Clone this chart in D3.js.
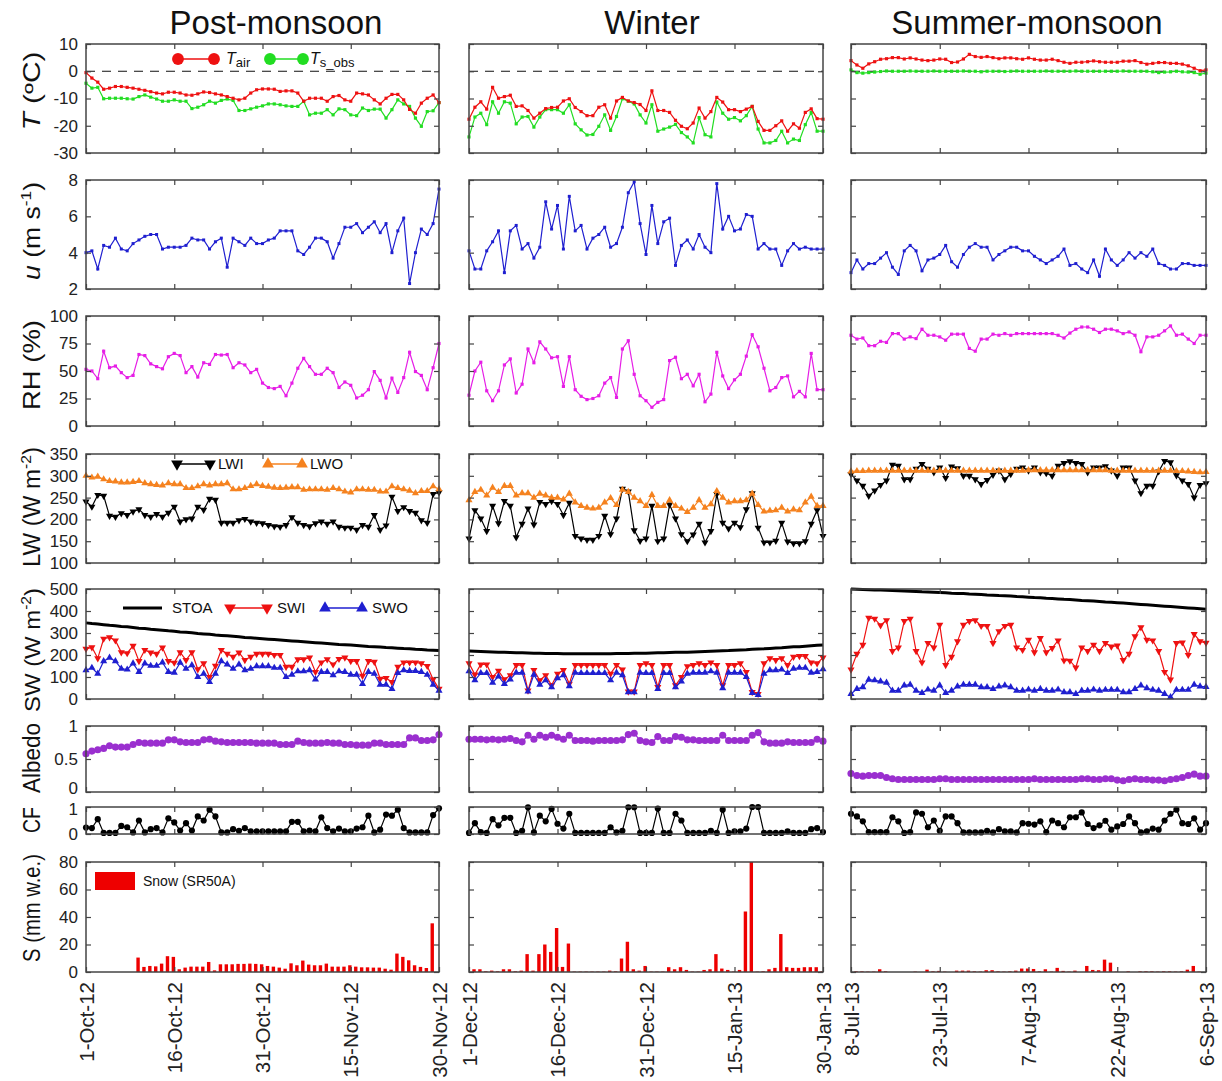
<!DOCTYPE html>
<html>
<head>
<meta charset="utf-8">
<script src="https://cdn.jsdelivr.net/npm/d3@7"></script>
<style>
  body { margin: 0; background: #fff; }
  svg { font-family: "Liberation Sans", Arial, sans-serif; }
</style>
</head>
<body>
<script>

// ---- data (daily values) ----
var seasonNames = ["Post-monsoon", "Winter", "Summer-monsoon"];
var dayTicks = [0, 15, 30, 45, 60];
var dateLabels = [
  ["1-Oct-12", "16-Oct-12", "31-Oct-12", "15-Nov-12", "30-Nov-12"],
  ["1-Dec-12", "16-Dec-12", "31-Dec-12", "15-Jan-13", "30-Jan-13"],
  ["8-Jul-13", "23-Jul-13", "7-Aug-13", "22-Aug-13", "6-Sep-13"]
];

// Post-monsoon
var tairPost = [-0.5,-2.5,-4,-6.6,-6.2,-5.6,-5.6,-5.9,-6.2,-6.6,-7,-7.5,-8,-8.3,-7.7,-7.7,-8,-8.7,-8.8,-8.3,-7.6,-7.8,-8.3,-8.7,-9.3,-9.9,-10.5,-9.9,-8,-6.8,-6.5,-6.5,-6.6,-7.4,-7.2,-7.2,-8,-11,-9.9,-9.9,-9.9,-11,-9.3,-8.9,-10.5,-11,-8,-8.3,-8.7,-10.5,-12,-9.9,-8.5,-8.5,-10.5,-14,-15.4,-11.7,-9.9,-8.7,-11.5];
var tsPost = [-4.4,-6.2,-5.9,-10.1,-9.9,-9.9,-9.9,-10.1,-10.2,-9.3,-8.7,-9.5,-10.2,-11,-11,-10.5,-11,-11,-13.7,-13.2,-12.3,-11,-11.7,-10.7,-10.2,-10.7,-14.4,-14.4,-13.8,-13.2,-12.7,-12,-12,-12.3,-12.7,-12.9,-12.9,-11,-16,-15.4,-15.4,-14.1,-16,-13.8,-14.1,-16,-16.3,-13.5,-14.4,-13.9,-13.9,-17.2,-14.1,-10.5,-12,-12.9,-17.2,-20.2,-14.8,-14.5,-11.5];
var windPost = [4.0,4.1,3.1,4.4,4.3,4.8,4.2,4.1,4.5,4.7,4.9,5.0,5.0,4.2,4.3,4.3,4.3,4.4,4.8,4.7,4.7,4.2,4.6,4.8,3.2,4.8,4.6,4.4,4.8,4.5,4.5,4.7,4.8,5.2,5.2,5.2,4.1,3.9,4.3,4.8,4.8,4.6,3.7,4.5,5.4,5.4,5.6,5.1,5.4,5.7,5.1,5.6,4.0,5.2,5.9,2.3,4.0,5.3,5.0,5.6,7.5];
var rhPost = [51.5,50,43,68,53,54.5,48.5,44,46,65,64,56.5,54,52,63,66,64,48.5,54,44.5,57.5,56,65,64.5,65,53,57.5,55.5,48.5,51.5,39,35,34,36,27.5,39,52.5,61.5,54,47,47,52.5,48.5,35,40,37,25.5,28,33,49.5,41.5,25.5,43.5,30.5,44,67,49.5,46,33,53,75];
var lwiPost = [241,229,256,254,208,206,214,210,218,223,210,206,212,206,215,229,195,200,202,229,222,247,245,192,192,192,198,201,195,192,191,187,184,183,187,205,192,187,184,191,195,190,195,183,181,181,176,187,183,210,176,186,252,219,228,219,215,198,192,258,262];
var lwoPost = [300,296,298,292,288,287,285,285,286,288,283,281,279,278,283,281,281,272,272,276,281,278,281,281,283,269,269,272,277,281,277,275,273,272,273,274,274,268,269,269,269,268,272,269,264,262,269,269,268,268,264,264,276,272,269,266,260,265,265,276,269];
var stoaPost = [346,343,341,338,335,333,330,328,325,322,320,317,315,313,310,308,305,303,301,298,296,294,291,289,287,285,283,280,278,276,274,272,270,268,266,264,262,260,258,256,254,252,250,248,247,245,243,241,239,238,236,234,233,231,229,228,226,225,223,222,220];
var swiPost = [228,235,185,274,280,266,212,208,242,172,223,211,205,234,172,165,212,177,212,135,162,100,151,223,205,192,211,177,192,205,205,205,200,200,146,146,180,180,188,123,166,180,157,182,188,172,172,105,172,169,92,95,77,146,166,166,166,162,150,89,46];
var swoPost = [131,142,115,172,188,172,138,134,162,123,162,151,151,166,123,120,165,138,154,100,115,77,115,172,157,138,157,131,138,149,149,149,142,142,100,111,126,126,131,89,123,123,108,126,123,111,111,69,123,115,65,65,46,118,131,128,128,123,110,65,38];
var albedoPost = [0.58,0.62,0.64,0.66,0.70,0.68,0.68,0.68,0.72,0.75,0.74,0.74,0.74,0.74,0.79,0.79,0.76,0.75,0.75,0.75,0.79,0.80,0.77,0.76,0.75,0.75,0.75,0.75,0.75,0.74,0.74,0.74,0.74,0.72,0.72,0.72,0.77,0.75,0.74,0.74,0.74,0.75,0.74,0.74,0.72,0.72,0.71,0.71,0.71,0.74,0.74,0.72,0.72,0.72,0.72,0.82,0.82,0.78,0.78,0.79,0.87];
var cfPost = [0.24,0.22,0.55,0.04,0.04,0.04,0.3,0.25,0.06,0.5,0.06,0.18,0.22,0.06,0.58,0.43,0.13,0.4,0.13,0.65,0.5,0.9,0.65,0.06,0.06,0.18,0.12,0.22,0.1,0.1,0.1,0.1,0.1,0.1,0.1,0.45,0.45,0.1,0.13,0.1,0.62,0.22,0.1,0.2,0.1,0.1,0.2,0.25,0.68,0.06,0.16,0.72,0.68,0.9,0.22,0.06,0.06,0.06,0.06,0.7,0.95];
var snowPost = [0,0,0,0,0,0,0,0,10.5,3.7,4.4,4.1,6.1,11.5,11,2,3.2,3.9,3.9,3.9,7.3,1.2,5.6,5.6,5.6,5.9,5.9,6.1,5.9,5.6,4.4,3.9,3.2,2.4,6.3,4.9,8.3,5.4,4.9,4.9,6.1,3.9,3.9,3.9,4.9,3.9,3.4,3.4,3.2,3.2,2.4,1.7,13.4,11,8.5,4.9,3.7,2.9,35.4,0];

// Winter
var tairWinter = [-17.6,-13.2,-11.2,-13.9,-5.9,-9.9,-9.3,-8.8,-12.9,-12.7,-14.4,-17.2,-15.4,-13.7,-13.3,-13.2,-10.9,-10.1,-13.3,-14.8,-16.3,-16.3,-13.2,-12.3,-17.2,-10.9,-9.6,-10.9,-11.5,-12.2,-14.4,-7.2,-14.4,-14.4,-15.1,-18.0,-20.2,-21.1,-19.0,-13.5,-17.2,-14.8,-9.6,-11.3,-14.1,-14.1,-14.8,-13.9,-12.9,-18.4,-21.7,-21.7,-20.0,-18.2,-22.0,-19.3,-20.9,-15.1,-13.8,-17.4,-17.6];
var tsWinter = [-24.1,-16.8,-15.4,-19.6,-11.2,-15.4,-11.2,-11.7,-19.3,-16.8,-16.6,-20.5,-16.8,-14.1,-14.1,-14.1,-15.4,-12.3,-19.3,-21.5,-23.4,-23.2,-20.2,-16.0,-21.7,-16.6,-10.1,-11.0,-12.0,-16.0,-19.0,-12.3,-22.0,-21.2,-20.5,-19.5,-22.5,-24.1,-26.3,-17.0,-23.3,-24.1,-11.3,-15.4,-17.6,-17.0,-18.2,-16.3,-12.9,-21.2,-26.3,-26.3,-25.4,-22.0,-26.3,-24.9,-25.4,-19.6,-15.1,-22.0,-22.0];
var windWinter = [4.1,3.1,3.1,4.1,4.6,5.2,2.9,5.2,5.5,4.2,4.5,3.7,4.3,6.8,5.3,6.6,4.2,7.1,5.2,5.5,4.2,4.8,5.0,5.4,4.3,4.5,5.4,7.3,7.9,5.6,3.9,6.6,4.5,5.7,5.9,3.3,4.4,4.7,4.2,5.0,4.3,4.0,7.8,5.3,6.0,5.2,5.3,6.1,6.0,4.2,4.5,4.2,4.2,3.3,4.1,4.5,4.2,4.3,4.2,4.2,4.2];
var rhWinter = [28,50,58,32,23,32,55.5,61,30,38,70,57.5,76.5,70,62,63,36,63,33,27,24,25,27.5,39,44,26,70,77.5,47,27.5,23,17,21.5,24,59.5,62.5,43,47,36.5,47,22,29,67,45.5,34,42,47,63.5,83,72,52.5,32,35,44,45.5,26.5,31.5,26.5,66,33,33];
var lwiWinter = [156,221,202,173,231,191,242,231,159,190,225,188,240,235,242,235,210,238,162,156,153,153,162,208,166,202,270,264,175,151,156,231,150,156,234,202,166,150,165,190,147,173,258,192,179,192,182,223,260,181,147,147,151,192,149,145,145,150,190,221,162];
var lwoWinter = [244,263,268,255,273,263,277,277,255,260,260,250,259,255,250,250,246,259,239,231,227,225,227,239,249,233,268,263,250,242,231,256,231,231,244,231,225,217,227,244,227,235,265,250,239,242,242,244,259,233,218,220,221,227,218,223,221,239,252,231,231];
var stoaWinter = [218,217,216,215,214,213,212,211,210,210,209,208,208,207,207,207,206,206,206,206,206,206,206,206,206,207,207,207,208,208,208,209,210,210,211,212,212,213,214,215,216,217,218,219,220,222,223,224,226,227,228,230,232,233,235,237,238,240,242,244,246];
var swiWinter = [162,111,157,157,100,128,89,108,154,154,38,131,85,108,62,115,131,69,154,154,154,154,154,154,115,154,134,34,34,154,162,154,54,154,154,62,100,149,154,162,154,166,154,62,154,154,162,123,31,23,162,185,177,185,154,192,195,195,166,162,188];
var swoWinter = [126,85,118,118,74,103,69,89,120,120,34,111,65,85,54,95,108,58,120,118,118,118,118,118,85,120,108,31,31,120,118,118,46,118,118,54,80,115,120,120,120,126,120,49,120,120,120,100,28,18,115,131,131,134,118,138,142,142,120,123,135];
var albedoWinter = [0.80,0.80,0.80,0.79,0.80,0.79,0.80,0.81,0.78,0.76,0.86,0.80,0.86,0.83,0.86,0.83,0.80,0.86,0.78,0.78,0.78,0.77,0.78,0.78,0.78,0.78,0.79,0.87,0.89,0.78,0.76,0.75,0.84,0.78,0.78,0.84,0.83,0.79,0.79,0.78,0.78,0.78,0.78,0.86,0.78,0.78,0.78,0.78,0.86,0.90,0.76,0.74,0.74,0.74,0.76,0.75,0.75,0.75,0.75,0.80,0.77];
var cfWinter = [0.04,0.4,0.07,0.04,0.55,0.32,0.6,0.6,0.04,0.12,0.99,0.06,0.68,0.47,0.93,0.38,0.2,0.75,0.04,0.04,0.04,0.04,0.04,0.04,0.25,0.06,0.12,0.99,0.99,0.04,0.04,0.04,0.94,0.04,0.04,0.75,0.5,0.04,0.04,0.04,0.04,0.12,0.04,0.9,0.04,0.1,0.1,0.2,1.0,1.0,0.04,0.04,0.04,0.04,0.1,0.04,0.04,0.04,0.18,0.22,0.07];
var snowWinter = [2,2,0.5,1,0.5,2,2,0.5,1,13,1,13,20,14.6,32,3.7,20.7,0.3,0.3,0.3,0.3,0.3,0.3,1,0.5,9.8,22,2,1,4.4,0.3,0.3,0.3,3.5,2,3.5,1.5,0.3,0.3,1.5,2,13,2.5,1.5,0.3,1.5,44,80,0.3,0.5,2,3,27.6,3.5,3,3,3.5,3.5,3.5,0.5];

// Summer-monsoon
var tairSummer = [3.9,2.3,1.1,2.7,3.5,4.4,4.6,5.0,5.0,4.5,4.9,4.5,4.1,3.9,4.1,4.5,4.4,3.2,3.4,4.5,6.2,5.4,5.1,5.4,5.0,4.6,4.9,4.9,4.6,4.4,4.9,4.4,4.1,4.1,4.4,3.9,3.3,2.9,3.3,3.3,3.5,3.8,3.5,3.3,3.3,3.3,3.7,3.7,3.9,3.2,2.6,2.9,3.2,3.2,2.9,2.9,2.6,2.0,1.1,0.2,0.5];
var tsSummer = [0.5,-0.5,-0.7,-0.5,-0.3,-0.1,0.1,0,0,0,0.1,0,0,0,0.1,0,0,0,0,0.1,0,0,-0.2,0,0,0,-0.1,0,0.1,0,0,0,0,0.1,0,0,0,0,0.1,0,0,0,0,0,0,0,0.1,0,0,0,0,-0.2,-0.5,-0.3,-0.2,0,-0.2,-0.3,-0.5,-1.1,-0.7];
var windSummer = [2.9,3.6,3.1,3.4,3.4,3.7,4.0,3.2,2.8,4.1,4.4,4.1,3.0,3.6,3.7,3.9,4.4,3.5,3.2,3.9,4.3,4.5,4.3,4.3,3.6,3.9,4.1,4.3,4.3,4.1,4.1,3.8,3.6,3.4,3.6,3.8,4.2,3.3,3.4,3.1,2.9,3.6,2.7,4.2,3.6,3.3,3.6,4.0,3.7,4.0,3.8,4.2,3.4,3.3,3.1,3.1,3.4,3.4,3.3,3.3,3.3];
var rhSummer = [82.5,79,80,73,73,77,76,84,84,79,81,79.5,88,82.5,82.5,81,78,83.5,83.5,83.5,70.5,68,79,79,83.5,82.5,84,82.5,84,84,84,84,84,84,84,82.5,80,84.5,88,90,90,88,85,88,88,86.5,84,85.5,82.5,67.5,81,81,82.5,86.5,91,82.5,83.5,79,75,82.5,82.5];
var lwiSummer = [304,289,277,254,266,279,289,325,323,292,292,316,327,316,308,319,295,321,317,300,300,292,281,290,302,312,292,304,316,319,312,319,308,306,300,323,329,333,329,327,308,319,319,322,312,300,319,319,289,260,277,277,310,334,331,301,289,281,250,279,283];
var lwoSummer = [310,311,311,312,312,312,312,312,312,312,312,312,312,312,312,312,312,312,312,312,312,312,312,312,312,312,312,312,312,312,313,313,313,313,313,313,313,313,313,313,313,313,313,313,312,312,312,312,312,312,312,312,312,312,312,311,311,310,309,308,309];
var stoaSummer = [500,499,498,497,496,495,494,493,492,491,490,489,487,486,485,484,483,481,480,479,477,476,475,473,472,470,469,468,466,465,463,461,460,458,457,455,453,452,450,448,447,445,443,441,440,438,436,434,432,430,428,426,424,422,420,418,416,414,412,410,408];
var swiSummer = [134,205,246,369,365,335,358,218,234,354,365,218,166,254,234,337,154,192,262,337,354,358,332,332,254,308,332,337,234,223,269,212,277,212,231,266,175,174,143,234,218,246,218,254,238,243,177,205,285,326,269,266,218,123,88,254,257,200,295,262,255];
var swoSummer = [23,46,54,88,85,80,74,38,38,62,65,38,28,43,38,62,28,38,57,65,65,65,54,54,46,57,62,54,38,38,43,38,46,38,38,43,31,31,23,38,38,43,38,42,42,42,31,31,46,62,49,42,38,23,8,42,42,42,65,57,55];
var albedoSummer = [0.28,0.25,0.24,0.25,0.25,0.25,0.22,0.20,0.19,0.19,0.19,0.19,0.19,0.19,0.19,0.20,0.20,0.19,0.19,0.19,0.19,0.19,0.19,0.19,0.19,0.19,0.19,0.19,0.19,0.19,0.19,0.20,0.19,0.19,0.19,0.19,0.19,0.19,0.19,0.20,0.20,0.19,0.19,0.20,0.20,0.18,0.17,0.19,0.20,0.19,0.19,0.18,0.18,0.17,0.19,0.20,0.22,0.25,0.27,0.24,0.24];
var cfSummer = [0.75,0.65,0.47,0.07,0.07,0.07,0.07,0.62,0.47,0.04,0.07,0.8,0.75,0.25,0.5,0.12,0.65,0.65,0.4,0.06,0.06,0.06,0.06,0.12,0.06,0.18,0.1,0.1,0.06,0.4,0.38,0.35,0.47,0.07,0.5,0.4,0.25,0.62,0.62,0.8,0.37,0.22,0.32,0.49,0.16,0.28,0.37,0.65,0.4,0.06,0.1,0.2,0.16,0.5,0.75,0.9,0.4,0.37,0.58,0.16,0.4];
var snowSummer = [0.5,0.5,0.3,0.3,2,0.5,0,0,0,0,0.3,0,1.7,0.5,0.8,0.3,0,1,1,1,0.5,0.3,1.3,1.3,0.5,0.3,0.5,1,2.5,2.5,2.2,0.5,2,0.3,3,0.8,0.3,1,0,4.4,1.5,1.3,9,6.8,0.3,0,0.5,0,0.5,0.5,0.5,0.3,0.5,0.5,0.3,0.5,1.7,4.4,0.3,0];

var seasons = [
  {tair: tairPost, ts: tsPost, wind: windPost, rh: rhPost, lwi: lwiPost, lwo: lwoPost, stoa: stoaPost, swi: swiPost, swo: swoPost, albedo: albedoPost, cf: cfPost, snow: snowPost},
  {tair: tairWinter, ts: tsWinter, wind: windWinter, rh: rhWinter, lwi: lwiWinter, lwo: lwoWinter, stoa: stoaWinter, swi: swiWinter, swo: swoWinter, albedo: albedoWinter, cf: cfWinter, snow: snowWinter},
  {tair: tairSummer, ts: tsSummer, wind: windSummer, rh: rhSummer, lwi: lwiSummer, lwo: lwoSummer, stoa: stoaSummer, swi: swiSummer, swo: swoSummer, albedo: albedoSummer, cf: cfSummer, snow: snowSummer}
];

// ---- layout ----
var svgWidth = 1222, svgHeight = 1081;
var colRange = [[86, 439], [469, 823], [851, 1206]];
var titleX = [276, 652, 1027];

var panels = [
  {key: "T",      top: 44,  bottom: 153, domain: [-30, 10], ticks: [10, 0, -10, -20, -30]},
  {key: "u",      top: 180, bottom: 289, domain: [2, 8],    ticks: [8, 6, 4, 2]},
  {key: "RH",     top: 316, bottom: 426, domain: [0, 100],  ticks: [100, 75, 50, 25, 0]},
  {key: "LW",     top: 454, bottom: 563, domain: [100, 350], ticks: [350, 300, 250, 200, 150, 100]},
  {key: "SW",     top: 589, bottom: 699, domain: [0, 500],  ticks: [500, 400, 300, 200, 100, 0]},
  {key: "Albedo", top: 726, bottom: 792, domain: [0, 1],    ticks: [1, 0.5, 0]},
  {key: "CF",     top: 807, bottom: 834, domain: [0, 1],    ticks: [1, 0]},
  {key: "S",      top: 862, bottom: 972, domain: [0, 80],   ticks: [80, 60, 40, 20, 0]}
];

var col = {
  red: "#ee1111", green: "#22dd22", blue: "#1f1fd0", magenta: "#e61ee6",
  orange: "#f5821f", purple: "#9a2fcf", black: "#000", frame: "#444"
};

var svg = d3.select("body").append("svg").attr("width", svgWidth).attr("height", svgHeight);

var fmt = function(d) { return String(d); };

function styleAxis(sel) {
  sel.select(".domain").remove();
  sel.selectAll(".tick line").attr("stroke", col.frame).attr("stroke-width", 1.2);
  sel.selectAll(".tick text").attr("fill", "#222").attr("font-size", 17)
    .attr("font-family", "Liberation Sans, Arial, sans-serif");
}

function drawSeries(g, x, y, values, color, symbol, size, flip, width) {
  var line = d3.line().x(function(d, i) { return x(i); }).y(function(d) { return y(d); });
  g.append("path").datum(values)
    .attr("fill", "none").attr("stroke", color).attr("stroke-width", width || 1.2)
    .attr("d", line);
  g.selectAll(null).data(values).enter().append("path")
    .attr("d", d3.symbol().type(symbol).size(size))
    .attr("transform", function(d, i) {
      return "translate(" + x(i) + "," + y(d) + ")" + (flip ? " rotate(180)" : "");
    })
    .attr("fill", color);
}

seasons.forEach(function(s, c) {
  var x = d3.scaleLinear().domain([0, 60]).range(colRange[c]);
  var left = colRange[c][0], right = colRange[c][1];

  svg.append("text")
    .attr("x", titleX[c]).attr("y", 34)
    .attr("text-anchor", "middle").attr("font-size", 33).attr("fill", "#111")
    .text(seasonNames[c]);

  panels.forEach(function(p) {
    var y = d3.scaleLinear().domain(p.domain).range([p.bottom, p.top]);
    var g = svg.append("g");

    // data
    if (p.key === "T") {
      g.append("line").attr("x1", left).attr("x2", right).attr("y1", y(0)).attr("y2", y(0))
        .attr("stroke", "#111").attr("stroke-width", 1.2).attr("stroke-dasharray", "9,7");
      drawSeries(g, x, y, s.ts, col.green, d3.symbolSquare, 10);
      drawSeries(g, x, y, s.tair, col.red, d3.symbolSquare, 10);
    } else if (p.key === "u") {
      drawSeries(g, x, y, s.wind, col.blue, d3.symbolSquare, 9);
    } else if (p.key === "RH") {
      drawSeries(g, x, y, s.rh, col.magenta, d3.symbolSquare, 10);
    } else if (p.key === "LW") {
      drawSeries(g, x, y, s.lwi, col.black, d3.symbolTriangle, 22, true);
      drawSeries(g, x, y, s.lwo, col.orange, d3.symbolTriangle, 22, false);
    } else if (p.key === "SW") {
      g.append("path").datum(s.stoa).attr("fill", "none").attr("stroke", "#000").attr("stroke-width", 3)
        .attr("d", d3.line().x(function(d, i) { return x(i); }).y(function(d) { return y(d); }));
      drawSeries(g, x, y, s.swi, col.red, d3.symbolTriangle, 22, true);
      drawSeries(g, x, y, s.swo, col.blue, d3.symbolTriangle, 22, false);
    } else if (p.key === "Albedo") {
      drawSeries(g, x, y, s.albedo, col.purple, d3.symbolCircle, 40);
    } else if (p.key === "CF") {
      drawSeries(g, x, y, s.cf, col.black, d3.symbolCircle, 30);
    } else if (p.key === "S") {
      var bw = 3.4;
      g.selectAll(null).data(s.snow).enter().append("rect")
        .attr("x", function(d, i) { return x(i + 0.85) - bw / 2; })
        .attr("width", bw)
        .attr("y", function(d) { return y(d); })
        .attr("height", function(d) { return y(0) - y(d); })
        .attr("fill", "#ee0000");
    }

    // frame and ticks
    g.append("rect").attr("x", left).attr("y", p.top)
      .attr("width", right - left).attr("height", p.bottom - p.top)
      .attr("fill", "none").attr("stroke", col.frame).attr("stroke-width", 1.5);

    var yl = g.append("g").attr("transform", "translate(" + left + ",0)")
      .call(d3.axisLeft(y).tickValues(p.ticks).tickSize(-5).tickPadding(8)
        .tickFormat(c === 0 ? fmt : ""));
    styleAxis(yl);
    // nudge the crowded labels between the Albedo and CF panels
    if (p.key === "Albedo") yl.selectAll(".tick text").filter(function(d) { return d === 0; }).attr("dy", "0.1em");
    if (p.key === "CF") yl.selectAll(".tick text").filter(function(d) { return d === 1; }).attr("dy", "0.45em");

    var yr = g.append("g").attr("transform", "translate(" + right + ",0)")
      .call(d3.axisRight(y).tickValues(p.ticks).tickSize(-5).tickFormat(""));
    styleAxis(yr);
    var xt = g.append("g").attr("transform", "translate(0," + p.top + ")")
      .call(d3.axisTop(x).tickValues(dayTicks).tickSize(-5).tickFormat(""));
    styleAxis(xt);
    var xb = g.append("g").attr("transform", "translate(0," + p.bottom + ")")
      .call(d3.axisBottom(x).tickValues(dayTicks).tickSize(-5)
        .tickFormat(p.key === "S" ? function(d, i) { return dateLabels[c][i]; } : ""));
    styleAxis(xb);
    if (p.key === "S") {
      xb.selectAll(".tick text")
        .attr("transform", "rotate(-90)")
        .attr("text-anchor", "end")
        .attr("x", -10).attr("y", 0).attr("dy", "0.35em")
        .attr("font-size", 20.5);
    }
  });
});

// ---- y axis titles (stretched along the axis to the span seen in the figure) ----
function yTitle(cy, span, parts) {
  var t = svg.append("text")
    .attr("text-anchor", "middle").attr("font-size", 23).attr("fill", "#111");
  parts.forEach(function(pt) {
    var ts = t.append("tspan").text(pt.t);
    if (pt.i) ts.attr("font-style", "italic");
    if (pt.sup) ts.attr("font-size", 15).attr("dy", -9);
    if (pt.down) ts.attr("dy", 9);
  });
  var len = t.node().getComputedTextLength();
  var k = len > 0 ? span / len : 1;
  t.attr("transform", "translate(40," + cy + ") scale(1," + k + ") rotate(-90)");
}
yTitle(91, 79, [{t: "T", i: true}, {t: " (ºC)"}]);
yTitle(231, 98, [{t: "u", i: true}, {t: " (m s"}, {t: "-1", sup: true}, {t: ")", down: true}]);
yTitle(365, 90, [{t: "RH (%)"}]);
yTitle(507, 120, [{t: "LW (W m"}, {t: "-2", sup: true}, {t: ")", down: true}]);
yTitle(650, 124, [{t: "SW (W m"}, {t: "-2", sup: true}, {t: ")", down: true}]);
yTitle(758, 70, [{t: "Albedo"}]);
yTitle(820, 26, [{t: "CF"}]);
yTitle(908, 108, [{t: "S (mm w.e.)"}]);

// ---- legends (first column) ----
var lg = svg.append("g").attr("font-size", 15).attr("fill", "#111");

function legendPair(x1, x2, yy, color, symbol, size, flip, width) {
  lg.append("line").attr("x1", x1).attr("x2", x2).attr("y1", yy).attr("y2", yy)
    .attr("stroke", color).attr("stroke-width", width || 1.3);
  if (!symbol) return;
  [x1, x2].forEach(function(xx) {
    lg.append("path").attr("d", d3.symbol().type(symbol).size(size))
      .attr("transform", "translate(" + xx + "," + yy + ")" + (flip ? " rotate(180)" : ""))
      .attr("fill", color);
  });
}

legendPair(178, 214, 59, col.red, d3.symbolCircle, 110);
var t1 = lg.append("text").attr("x", 226).attr("y", 64);
t1.append("tspan").attr("font-style", "italic").attr("font-size", 16).text("T");
t1.append("tspan").attr("font-size", 13).attr("dy", 3).text("air");
legendPair(270, 303, 59, col.green, d3.symbolCircle, 110);
var t2 = lg.append("text").attr("x", 310).attr("y", 64);
t2.append("tspan").attr("font-style", "italic").attr("font-size", 16).text("T");
t2.append("tspan").attr("font-size", 13).attr("dy", 3).text("s_obs");

legendPair(177, 210, 464, col.black, d3.symbolTriangle, 60, true);
lg.append("text").attr("x", 218).attr("y", 469).text("LWI");
legendPair(268, 302, 464, col.orange, d3.symbolTriangle, 60, false);
lg.append("text").attr("x", 310).attr("y", 469).text("LWO");

legendPair(123, 162, 608, "#000", null, 0, false, 3);
lg.append("text").attr("x", 172).attr("y", 613).text("STOA");
legendPair(230, 267, 608, col.red, d3.symbolTriangle, 60, true);
lg.append("text").attr("x", 277).attr("y", 613).text("SWI");
legendPair(325, 362, 608, col.blue, d3.symbolTriangle, 60, false);
lg.append("text").attr("x", 372).attr("y", 613).text("SWO");

lg.append("rect").attr("x", 95).attr("y", 872).attr("width", 40).attr("height", 18).attr("fill", "#ee0000");
lg.append("text").attr("x", 143).attr("y", 886).attr("font-size", 14).text("Snow (SR50A)");

</script>
</body>
</html>
